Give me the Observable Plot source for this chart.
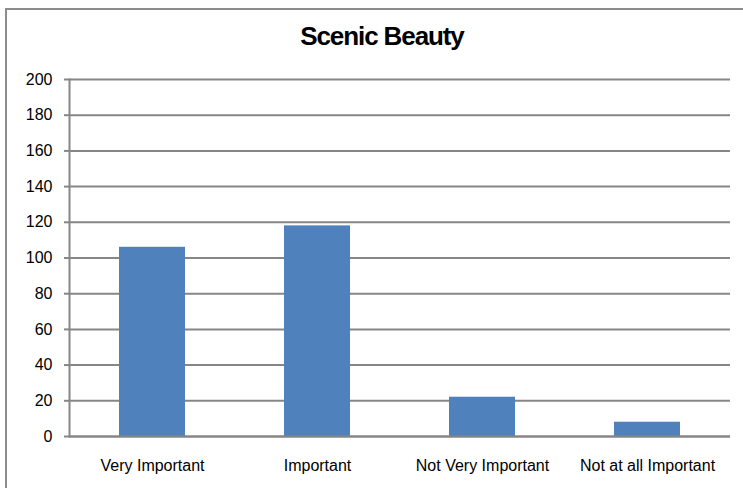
<!DOCTYPE html>
<html>
<head>
<meta charset="utf-8">
<script src="https://cdn.jsdelivr.net/npm/d3@7"></script>
<script src="https://cdn.jsdelivr.net/npm/@observablehq/plot@0.6"></script>
<style>
  html, body { margin: 0; padding: 0; background: #fff; }
  #wrap { position: relative; width: 743px; height: 488px; overflow: hidden; background: #fff; font-family: "Liberation Sans", Arial, sans-serif; }
  #border { position: absolute; left: 5px; top: 8px; width: 800px; height: 600px; border-left: 2px solid #8c8c8c; border-top: 2px solid #8c8c8c; box-sizing: border-box; pointer-events: none; }
  #title { position: absolute; left: 0; width: 764px; top: 21px; text-align: center; font-size: 26px; font-weight: bold; letter-spacing: -1.1px; color: #000; }
  #chart { position: absolute; left: 0; top: 0; }
</style>
</head>
<body>
<div id="wrap">
  <div id="chart"></div>
  <div id="border"></div>
  <div id="title">Scenic Beauty</div>
</div>
<script>
const categories = ["Very Important", "Important", "Not Very Important", "Not at all Important"];
const values = [106, 118, 22, 8];
const yTicks = [0, 20, 40, 60, 80, 100, 120, 140, 160, 180, 200];

const data = categories.map((c, i) => ({category: c, value: values[i]}));
const gridColor = "#868686";

const chart = Plot.plot({
  width: 743,
  height: 488,
  marginLeft: 69,
  marginRight: 13,
  marginTop: 79,
  marginBottom: 52,
  style: { fontFamily: "'Liberation Sans', Arial, sans-serif", background: "transparent", color: "#000" },
  x: { domain: categories, paddingInner: 0.6, paddingOuter: 0.3, label: null },
  y: { domain: [0, 200], label: null },
  marks: [
    Plot.gridY(yTicks, { stroke: gridColor, strokeOpacity: 1, strokeWidth: 2 }),
    Plot.barY(data, { x: "category", y: "value", fill: "#4f81bd" }),
    Plot.ruleY([0], { stroke: gridColor, strokeWidth: 2 }),
    Plot.frame({ anchor: "left", stroke: gridColor, strokeWidth: 2 }),
    Plot.axisY(yTicks, { tickSize: 5, tickPadding: 12, fontSize: 16, stroke: gridColor, strokeWidth: 2, fill: "#000", label: null }),
    Plot.axisX({ tickSize: 0, tickPadding: 23, fontSize: 16, fill: "#000", label: null })
  ]
});
document.getElementById("chart").appendChild(chart);
</script>
</body>
</html>
